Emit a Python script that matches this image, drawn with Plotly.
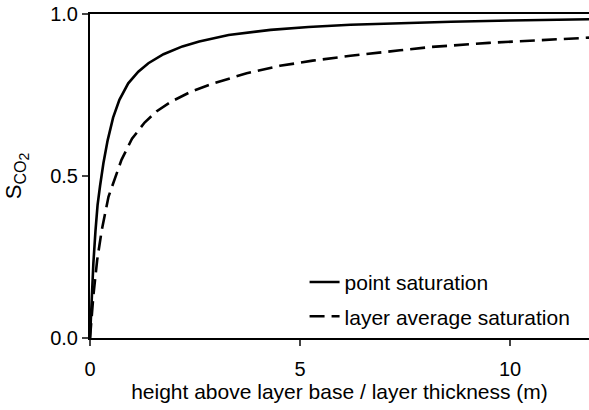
import plotly.graph_objects as go

# height above layer base / layer thickness (m) and CO2 saturation
h_point = [0, 0.04, 0.08, 0.13, 0.18, 0.24, 0.32, 0.42, 0.55, 0.70, 0.91, 1.15, 1.39,
           1.75, 2.2, 2.6, 3.3, 4.3, 5.2, 6.2, 7.4, 8.6, 10.0, 11.88]
s_point = [0, 0.12, 0.23, 0.33, 0.41, 0.47, 0.54, 0.61, 0.68, 0.735, 0.786, 0.822, 0.848,
           0.876, 0.900, 0.915, 0.935, 0.951, 0.960, 0.967, 0.972, 0.976, 0.980, 0.984]

h_avg = [0, 0.08, 0.17, 0.28, 0.44, 0.58, 0.75, 1.0, 1.3, 1.59, 1.94, 2.4, 2.94,
         3.73, 4.52, 5.3, 6.2, 7.38, 8.1, 9.5, 10.5, 11.88]
s_avg = [0, 0.13, 0.24, 0.333, 0.436, 0.49, 0.55, 0.615, 0.665, 0.700, 0.73, 0.76, 0.786,
         0.817, 0.840, 0.856, 0.871, 0.888, 0.898, 0.911, 0.918, 0.927]

x_ticks = [0, 5, 10]
y_ticks = [0.0, 0.5, 1.0]
y_labels = ["0.0", "0.5", "1.0"]

FONT = "Arial, Liberation Sans, sans-serif"

fig = go.Figure()
fig.add_trace(go.Scatter(
    x=h_point, y=s_point, mode="lines", name="point saturation",
    legendgroup="a", line=dict(color="black", width=2.6),
))
fig.add_trace(go.Scatter(
    x=h_avg, y=s_avg, mode="lines", name="layer average saturation",
    legendgroup="b", line=dict(color="black", width=2.6, dash="15px,7px"),
))

y_title = ("S<sub><span style='font-size:16px'>CO"
           "<sub><span style='font-size:14px'>2</span></sub></span></sub>")

fig.update_layout(
    width=589, height=410,
    margin=dict(l=90, r=0, t=14, b=72),
    plot_bgcolor="white", paper_bgcolor="white",
    font=dict(family=FONT, color="black", size=20),
    showlegend=True,
    legend=dict(
        x=0.43, y=0.235, xanchor="left", yanchor="top",
        bgcolor="rgba(0,0,0,0)", font=dict(size=21, family=FONT),
        tracegroupgap=4, traceorder="grouped",
    ),
    xaxis=dict(
        range=[0, 11.88], tickvals=x_ticks, ticks="outside", ticklen=6, tickwidth=2,
        showline=True, linewidth=2, linecolor="black", mirror=True,
        showgrid=False, zeroline=False, tickfont=dict(size=20), ticklabelstandoff=6,
        title=dict(text="height above layer base / layer thickness (m)",
                   font=dict(size=21), standoff=3),
    ),
    yaxis=dict(
        range=[0, 1.0], tickvals=y_ticks, ticktext=y_labels, ticks="outside", ticklen=6,
        tickwidth=2, showline=True, linewidth=2, linecolor="black", mirror=False,
        showgrid=False, zeroline=False, tickfont=dict(size=20),
        title=dict(text=y_title, font=dict(size=22), standoff=22),
    ),
)

fig.write_html("out.html")
